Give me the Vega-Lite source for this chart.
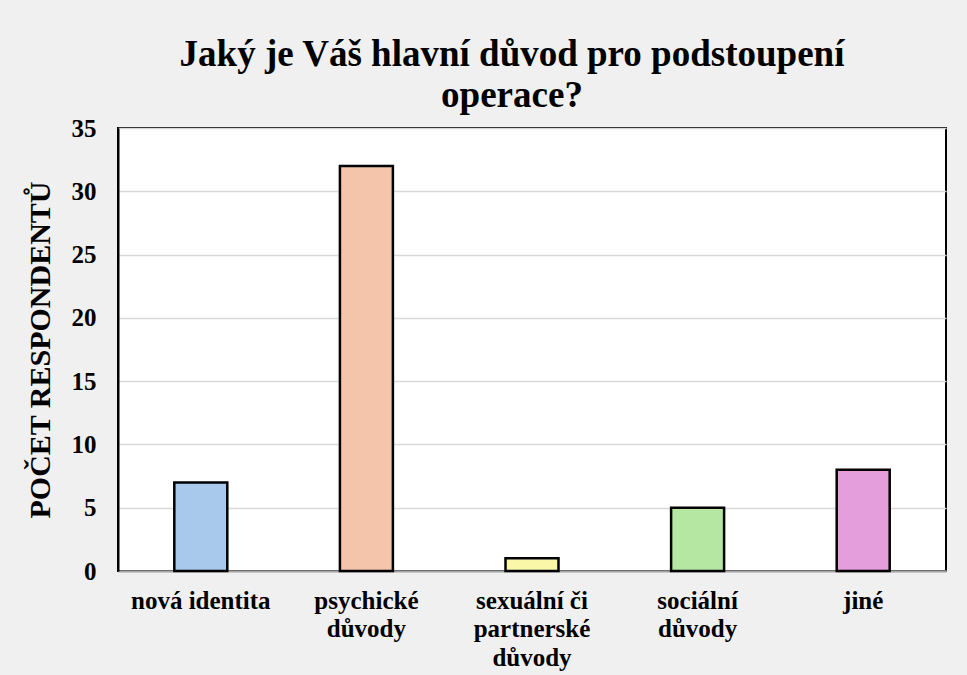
{
  "$schema": "https://vega.github.io/schema/vega-lite/v6.json",
  "width": 828,
  "height": 443,
  "autosize": {"type": "none"},
  "padding": {"left": 118, "top": 128, "right": 21, "bottom": 104},
  "background": "#f0f0f0",
  "title": {
    "text": ["Jaký je Váš hlavní důvod pro podstoupení", "operace?"],
    "font": "Liberation Serif",
    "fontSize": 37,
    "fontWeight": "bold",
    "color": "#000000",
    "lineHeight": 41,
    "anchor": "middle",
    "dx": -20,
    "offset": 1
  },
  "data": {
    "values": [
      {"kategorie": "nová identita", "pocet": 7},
      {"kategorie": "psychické důvody", "pocet": 32},
      {"kategorie": "sexuální či partnerské důvody", "pocet": 1},
      {"kategorie": "sociální důvody", "pocet": 5},
      {"kategorie": "jiné", "pocet": 8}
    ]
  },
  "config": {
    "view": {"fill": "white", "stroke": "black", "strokeWidth": 2},
    "font": "Liberation Serif"
  },
  "mark": {"type": "bar", "stroke": "black", "strokeWidth": 2.5},
  "encoding": {
    "x": {
      "field": "kategorie",
      "type": "nominal",
      "sort": null,
      "scale": {"paddingInner": 0.68, "paddingOuter": 0.34},
      "axis": {
        "title": null,
        "labelAngle": 0,
        "labelFont": "Liberation Serif",
        "labelFontSize": 25,
        "labelFontWeight": "bold",
        "labelColor": "#000000",
        "labelLineHeight": 28.5,
        "labelPadding": 17,
        "labelBaseline": "top",
        "ticks": false,
        "domainColor": "#a6a6a6",
        "domainWidth": 2,
        "labelExpr": "datum.value == 'psychické důvody' ? ['psychické', 'důvody'] : datum.value == 'sexuální či partnerské důvody' ? ['sexuální či', 'partnerské', 'důvody'] : datum.value == 'sociální důvody' ? ['sociální', 'důvody'] : datum.value"
      }
    },
    "y": {
      "field": "pocet",
      "type": "quantitative",
      "scale": {"domain": [0, 35]},
      "axis": {
        "title": "POČET RESPONDENTŮ",
        "titleFont": "Liberation Serif",
        "titleFontSize": 30,
        "titleFontWeight": "bold",
        "titleColor": "#000000",
        "titlePadding": 16,
        "values": [0, 5, 10, 15, 20, 25, 30, 35],
        "labelFont": "Liberation Serif",
        "labelFontSize": 25,
        "labelFontWeight": "bold",
        "labelColor": "#000000",
        "labelPadding": 22,
        "ticks": false,
        "domainColor": "black",
        "domainWidth": 2,
        "grid": true,
        "gridColor": "#d9d9d9",
        "gridWidth": 1.5
      }
    },
    "color": {
      "field": "kategorie",
      "type": "nominal",
      "sort": null,
      "legend": null,
      "scale": {
        "domain": ["nová identita", "psychické důvody", "sexuální či partnerské důvody", "sociální důvody", "jiné"],
        "range": ["#a8c9eb", "#f4c5aa", "#fbf7a8", "#b5e6a2", "#e59edc"]
      }
    }
  }
}
